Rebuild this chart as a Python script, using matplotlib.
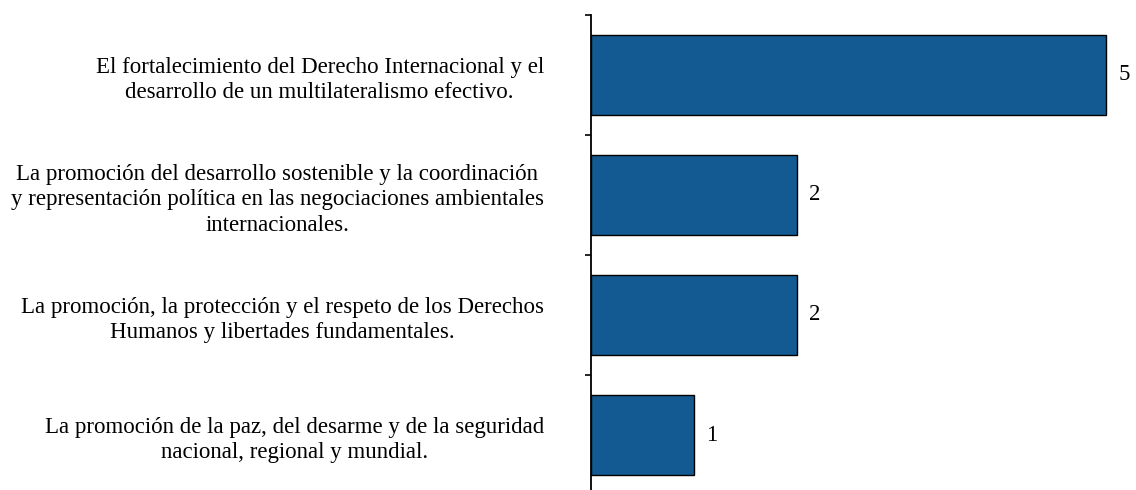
import numpy as np
import matplotlib
matplotlib.use("Agg")
import matplotlib.pyplot as plt

categorias = [
    "La promoción de la paz, del desarme y de la seguridad\nnacional, regional y mundial.",
    "La promoción, la protección y el respeto de los Derechos\nHumanos y libertades fundamentales.",
    "La promoción del desarrollo sostenible y la coordinación\ny representación política en las negociaciones ambientales\ninternacionales.",
    "El fortalecimiento del Derecho Internacional y el\ndesarrollo de un multilateralismo efectivo.",
]
valores = [1, 2, 2, 5]

plt.rcParams['font.family'] = ['Liberation Serif', 'DejaVu Serif']

fig = plt.figure(figsize=(11.36, 4.9), dpi=100)
# axes in pixel terms: left 591, top 15, bottom 495 (slightly outside the figure)
ax = fig.add_axes([591/1136, -5/490, 1 - 591/1136, 480/490])

y = np.arange(len(categorias))
ax.barh(y, valores, height=0.667, color='#125a91', edgecolor='black', linewidth=1.0)

for yi, v in zip(y, valores):
    ax.text(v + 0.12, yi, str(v), va='center', ha='left', fontsize=16.5)

ax.set_xlim(0, 5.29)
ax.set_ylim(-0.5, 3.5)

ax.set_yticks(y)
ax.set_yticklabels(categorias, fontsize=16.5, multialignment='center', linespacing=1.3)
ax.tick_params(axis='y', which='major', length=0, pad=34)
ax.set_yticks(np.arange(-0.5, 4, 1.0), minor=True)
ax.tick_params(axis='y', which='minor', length=4.5, width=1.2, direction='out')

for s in ['top', 'right', 'bottom']:
    ax.spines[s].set_visible(False)
ax.spines['left'].set_linewidth(1.3)
ax.xaxis.set_visible(False)

fig.savefig("out.png", dpi=100)
